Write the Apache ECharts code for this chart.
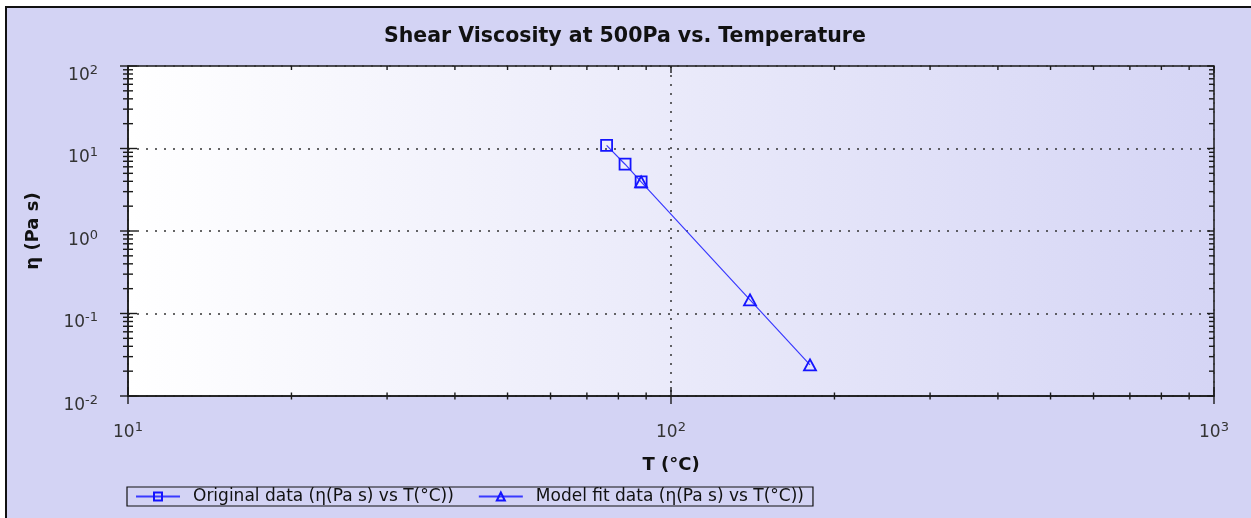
<!DOCTYPE html>
<html>
<head>
<meta charset="utf-8">
<script src="https://cdn.jsdelivr.net/npm/echarts@6/dist/echarts.min.js"></script>
<style>
html, body { margin: 0; padding: 0; background: #fff; overflow: hidden; }
#frame {
    position: absolute; left: 5px; top: 6px;
    width: 1244px; height: 510px;
    border-left: 2px solid #111; border-top: 2px solid #111;
    background: #d3d3f4;
}
#chart { width: 1244px; height: 510px; }
</style>
</head>
<body>
<div id="frame"><div id="chart"></div></div>
<script>
// measured data, T in °C, eta in Pa s
var origT = [76.1, 82.3, 88.1];
var origEta = [10.9, 6.45, 3.94];
var fitT = [88.1, 139.8, 180.3];
var fitEta = [3.94, 0.146, 0.0238];

// axis ticks (log decades + minor ticks)
var xMajor = [10, 100, 1000];
var xMinor = [20, 30, 40, 50, 60, 70, 80, 90, 200, 300, 400, 500, 600, 700, 800, 900];
var yMajor = [0.01, 0.1, 1, 10, 100];
var yMinor = [0.02, 0.03, 0.04, 0.05, 0.06, 0.07, 0.08, 0.09,
              0.2, 0.3, 0.4, 0.5, 0.6, 0.7, 0.8, 0.9,
              2, 3, 4, 5, 6, 7, 8, 9,
              20, 30, 40, 50, 60, 70, 80, 90];

var FONT = 'DejaVu Sans';
var INK = '#1a1a1a';

function pow10Label(v){
    var e = Math.round(Math.log(v) / Math.LN10);
    return '{b|10}{s|' + e + '}';
}
var labelRich = {
    b: { fontFamily: FONT, fontSize: 17, color: '#333', lineHeight: 20, verticalAlign: 'bottom' },
    s: { fontFamily: FONT, fontSize: 13, color: '#333', lineHeight: 2, verticalAlign: 'top' }
};

// ticks drawn on all four sides of the plot box
function tickSeries(isX){
    var major = isX ? xMajor : yMajor;
    var minor = isX ? xMinor : yMinor;
    var rows = major.map(function(v){ return isX ? [v, 1, 1] : [100, v, 1]; })
        .concat(minor.map(function(v){ return isX ? [v, 1, 0] : [100, v, 0]; }));
    return {
        type: 'custom',
        silent: true,
        clip: false,
        z: 4,
        data: rows,
        encode: { x: 0, y: 1 },
        renderItem: function(params, api){
            var cs = params.coordSys;
            var p = api.coord([api.value(0), api.value(1)]);
            var big = api.value(2) === 1;
            var st = { stroke: INK, lineWidth: 1.4 };
            var kids;
            if (isX) {
                var x = p[0], top = cs.y, bot = cs.y + cs.height;
                kids = [
                    { type: 'line', shape: { x1: x, y1: bot - (big ? 9 : 3.5), x2: x, y2: bot + (big ? 8 : 3.5) }, style: st },
                    { type: 'line', shape: { x1: x, y1: top, x2: x, y2: top + (big ? 7 : 4) }, style: st }
                ];
            } else {
                var y = p[1], left = cs.x, right = cs.x + cs.width;
                kids = [
                    { type: 'line', shape: { x1: left - (big ? 8 : 5), y1: y, x2: left + (big ? 9 : 5), y2: y }, style: st },
                    { type: 'line', shape: { x1: right - (big ? 7 : 5), y1: y, x2: right, y2: y }, style: st }
                ];
            }
            return { type: 'group', children: kids };
        }
    };
}

var chart = echarts.init(document.getElementById('chart'));
var option = {
    animation: false,
    title: {
        text: 'Shear Viscosity at 500Pa vs. Temperature',
        left: 377, top: 18, padding: 0,
        textStyle: { fontFamily: FONT, fontSize: 20.5, fontWeight: 'bold', color: '#111' }
    },
    legend: {
        left: 120, top: 479,
        itemWidth: 44, itemHeight: 10, itemGap: 24,
        padding: [1, 9, 1, 8],
        borderColor: '#111', borderWidth: 1.2,
        textStyle: { fontFamily: FONT, fontSize: 17, color: '#111', padding: [0, 0, 0, 8] },
        data: ['Original data (η(Pa s) vs T(°C))', 'Model fit data (η(Pa s) vs T(°C))']
    },
    grid: {
        left: 121, top: 58, right: 37, bottom: 122,
        show: true,
        borderColor: INK, borderWidth: 1.5,
        backgroundColor: new echarts.graphic.LinearGradient(0, 0, 1, 0, [
            { offset: 0, color: '#ffffff' },
            { offset: 1, color: '#d5d5f5' }
        ])
    },
    xAxis: {
        type: 'log', logBase: 10, min: 10, max: 1000,
        name: 'T (°C)', nameLocation: 'middle', nameGap: 60,
        nameTextStyle: { fontFamily: FONT, fontSize: 18, fontWeight: 'bold', color: '#111' },
        axisLine: { show: true, lineStyle: { color: INK, width: 1.5 } },
        axisTick: { show: false },
        minorTick: { show: false },
        axisLabel: { margin: 25, formatter: pow10Label, rich: labelRich },
        splitLine: { show: true, lineStyle: { color: '#333', width: 1.5, type: [2, 7] } }
    },
    yAxis: {
        type: 'log', logBase: 10, min: 0.01, max: 100,
        name: 'η (Pa s)', nameLocation: 'middle', nameGap: 86, nameRotate: 90,
        nameTextStyle: { fontFamily: FONT, fontSize: 18, fontWeight: 'bold', color: '#111' },
        axisLine: { show: true, lineStyle: { color: INK, width: 1.5 } },
        axisTick: { show: false },
        minorTick: { show: false },
        axisLabel: { margin: 30, padding: [16, 0, 0, 0], formatter: pow10Label, rich: labelRich },
        splitLine: { show: true, lineStyle: { color: '#333', width: 1.5, type: [2, 7] } }
    },
    series: [
        {
            name: 'Original data (η(Pa s) vs T(°C))',
            type: 'line',
            data: origT.map(function(t, i){ return [t, origEta[i]]; }),
            symbol: 'rect', symbolSize: 11,
            itemStyle: { color: 'rgba(255,255,255,0)', borderColor: '#1414ff', borderWidth: 1.8 },
            lineStyle: { color: '#3a3aff', width: 1.2 },
            z: 6
        },
        {
            name: 'Model fit data (η(Pa s) vs T(°C))',
            type: 'line',
            data: fitT.map(function(t, i){ return [t, fitEta[i]]; }),
            symbol: 'triangle', symbolSize: [12, 11],
            itemStyle: { color: 'rgba(255,255,255,0)', borderColor: '#1414ff', borderWidth: 1.8 },
            lineStyle: { color: '#3a3aff', width: 1.2 },
            z: 6
        },
        tickSeries(true),
        tickSeries(false)
    ]
};
chart.setOption(option);
</script>
</body>
</html>
